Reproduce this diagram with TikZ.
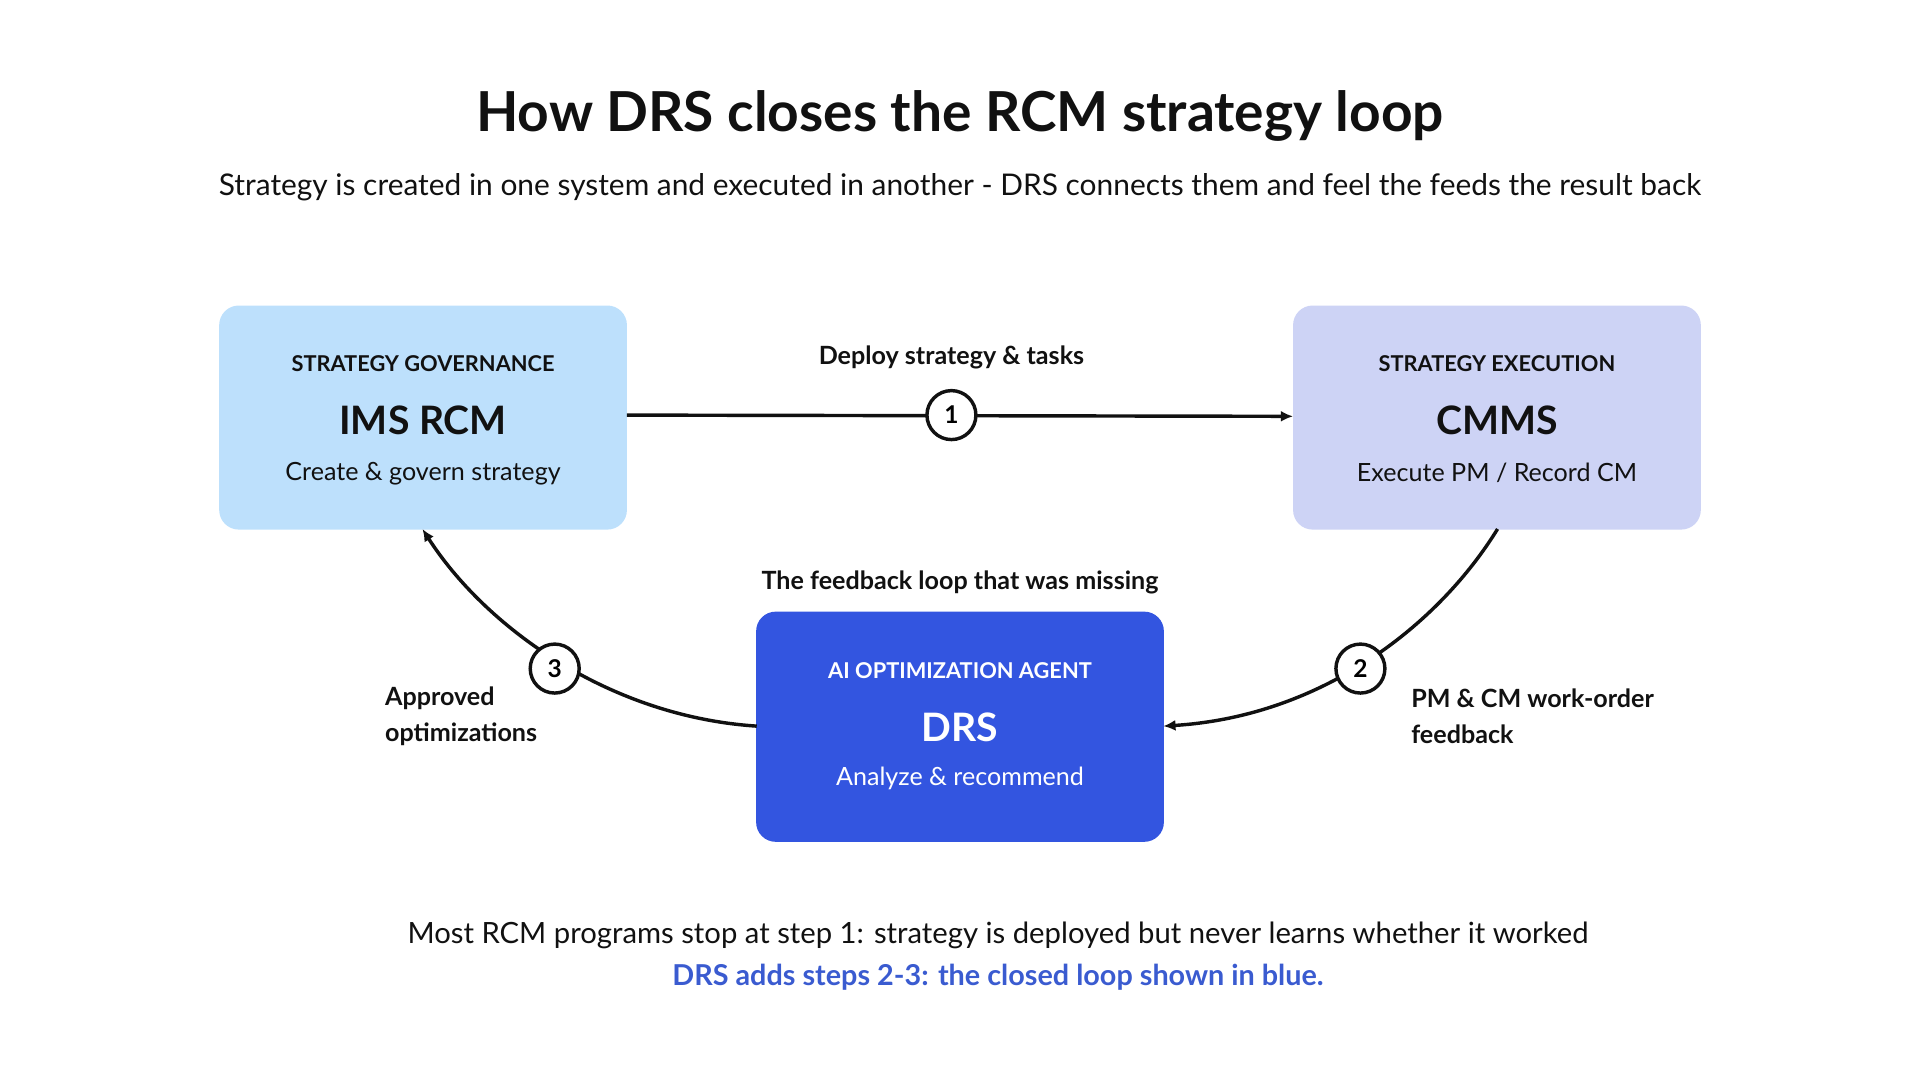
\documentclass[tikz,border=0pt]{standalone}
\usepackage{fontspec}
\setmainfont{Lato}
\usetikzlibrary{arrows.meta}
\definecolor{boxA}{HTML}{BDE0FC}
\definecolor{boxB}{HTML}{CDD3F5}
\definecolor{boxC}{HTML}{3355E0}
\definecolor{txtblue}{HTML}{3A5BD0}
\definecolor{ink}{HTML}{111111}
\begin{document}
\begin{tikzpicture}[x=1pt,y=-1pt,
  box/.style={rounded corners=16pt,minimum width=333pt,minimum height=183pt,inner sep=0pt},
  stepnum/.style={circle,draw=ink,line width=2.8pt,fill=white,minimum size=40pt,inner sep=0pt,font=\bfseries\fontsize{20}{20}\selectfont},
  conn/.style={draw=ink,line width=2.8pt,-{Latex[length=10pt,width=9pt]}},
  lbl/.style={font=\bfseries\fontsize{20.5}{29}\selectfont,text=ink},
  kicker/.style={font=\bfseries\fontsize{17.8}{20}\selectfont},
  big/.style={font=\bfseries\fontsize{32}{34}\selectfont},
  sub/.style={font=\fontsize{20.5}{24}\selectfont}]
\useasboundingbox (0,0) rectangle (1568,882);
\node[font=\bfseries\fontsize{45}{50}\selectfont,text=ink] (title) at (784,95) {How DRS closes the RCM strategy loop};
\node[font=\fontsize{24.4}{28}\selectfont,text=ink] (subtitle) at (784,153) {Strategy is created in one system and executed in another - DRS connects them and feel the feeds the result back};

\node[box,fill=boxA] (ims) at (345.5,341) {};
\node[kicker,text=ink] (imsk) at (345.5,297) {STRATEGY GOVERNANCE};
\node[big,text=ink] (imst) at (345.5,343) {IMS RCM};
\node[sub,text=ink] (imss) at (345.5,387) {Create \& govern strategy};

\node[box,fill=boxB] (cmms) at (1222.5,341) {};
\node[kicker,text=ink] (cmmsk) at (1222.5,297) {STRATEGY EXECUTION};
\node[big,text=ink] (cmmst) at (1222.5,343) {CMMS};
\node[sub,text=ink] (cmmss) at (1222.5,386) {Execute PM / Record CM};

\node[box,fill=boxC,minimum height=188pt] (drs) at (784,593.5) {};
\node[kicker,text=white] (drsk) at (784,548) {AI OPTIMIZATION AGENT};
\node[big,text=white] (drst) at (784,594) {DRS};
\node[sub,text=white] (drss) at (784,636) {Analyze \& recommend};
\node[lbl] (missing) at (784,476) {The feedback loop that was missing};

\coordinate (a1) at (512,339);
\coordinate (b1) at (1056,340);
\coordinate (a2) at (1223,432);
\coordinate (b2) at (950,593);
\coordinate (a3) at (618,593);
\coordinate (b3) at (345,432);

\draw[conn] (a1) -- (b1);
\draw[conn] (a2) .. controls (1175,510) and (1080,585) .. (b2);
\draw[conn] (a3) .. controls (495,585) and (395,510) .. (b3);

\node[stepnum] (s1) at (777,339) {1};
\node[stepnum] (s2) at (1111,546) {2};
\node[stepnum] (s3) at (453,546) {3};

\node[lbl] (l1) at (777,292) {Deploy strategy \& tasks};
\node[lbl,anchor=west,align=left] (l2) at (1149,585) {PM \& CM work-order\\feedback};
\node[lbl,anchor=west,align=left] (l3) at (311,585) {Approved\\optimizations};

\node[font=\fontsize{23.9}{28}\selectfont,text=ink] (foot1) at (815,764) {Most RCM programs stop at step 1: strategy is deployed but never learns whether it worked};
\node[font=\bfseries\fontsize{23.5}{28}\selectfont,text=txtblue] (foot2) at (815,798) {DRS adds steps 2-3: the closed loop shown in blue.};
\end{tikzpicture}
\end{document}
